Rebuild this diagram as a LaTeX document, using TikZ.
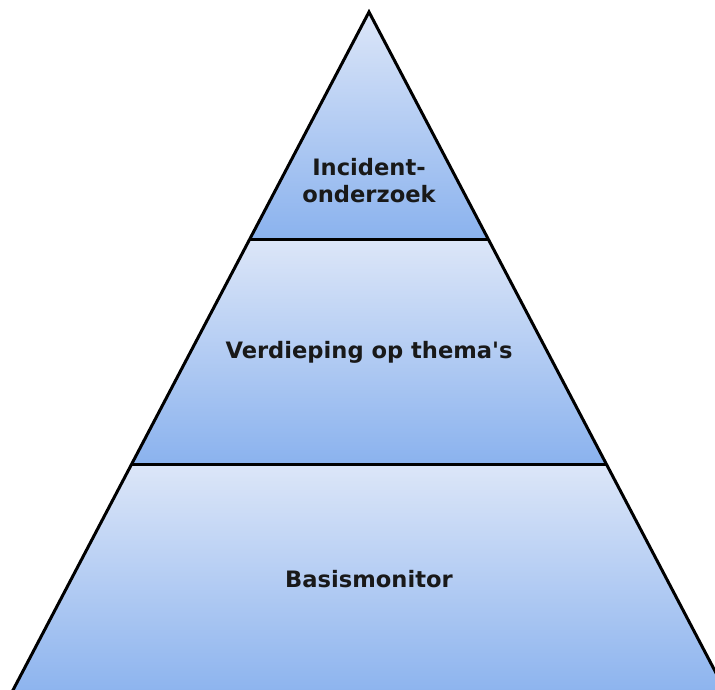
\documentclass[tikz,border=0pt]{standalone}
\usepackage{fontspec}
\setmainfont{DejaVu Sans}[Ligatures=TeXOff]
\definecolor{bandtop}{HTML}{DCE6F8}
\definecolor{bandbot}{HTML}{8AB2EE}
\begin{document}
\begin{tikzpicture}[x=1pt,y=1pt,
  lbl/.style={font=\bfseries\fontsize{22.6}{27}\selectfont, align=center, text=black!90},
  band/.style={top color=bandtop, bottom color=bandbot},
  edge/.style={line width=3pt, line join=miter, draw=black}]
\useasboundingbox (0,0) rectangle (715,690);
\clip (0,0) rectangle (715,690);
\coordinate (A) at (369,678);
\coordinate (L1) at (249.3,450);
\coordinate (R1) at (488.7,450);
\coordinate (L2) at (131.2,225);
\coordinate (R2) at (606.8,225);
\coordinate (L3) at (7.8,-10);
\coordinate (R3) at (730.2,-10);
\shade[band] (A) -- (R1) -- (L1) -- cycle;
\shade[band] (L1) -- (R1) -- (R2) -- (L2) -- cycle;
\shade[band] (L2) -- (R2) -- (R3) -- (L3) -- cycle;
\draw[edge] (L3) -- (A) -- (R3);
\draw[edge] (L1) -- (R1);
\draw[edge] (L2) -- (R2);
\node[lbl] (t1) at (369,509) {Incident-\\onderzoek};
\node[lbl] (t2) at (369,338) {Verdieping op thema's};
\node[lbl] (t3) at (369,111) {Basismonitor};
\end{tikzpicture}
\end{document}
